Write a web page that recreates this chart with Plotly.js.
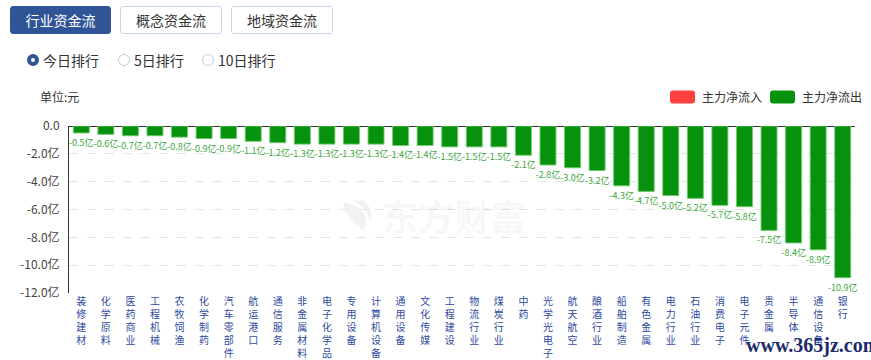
<!DOCTYPE html>
<html>
<head>
<meta charset="utf-8">
<script src="https://cdn.plot.ly/plotly-3.0.1.min.js"></script>
<style>
  html, body { margin: 0; padding: 0; background: #fff; }
  #wrap { position: relative; width: 871px; height: 360px; overflow: hidden; font-family: "Noto Sans CJK SC", "Noto Sans", sans-serif; }
  #chart { position: absolute; left: 0; top: 0; width: 871px; height: 360px; }
  .btn { position: absolute; top: 6px; height: 28px; box-sizing: border-box; border-radius: 3px; font-size: 14px; line-height: 26px; text-align: center; }
  .btn.on { background: #2f5597; color: #fff; border: 1px solid #2f5597; }
  .btn.off { background: #fff; color: #333; border: 1px solid #c9d7ec; }
  .radio { position: absolute; top: 51px; font-size: 14px; color: #333; line-height: 18px; }
  .dot { position: absolute; top: 3px; width: 12px; height: 12px; box-sizing: border-box; border-radius: 50%; }
  .dot.on { border: 4px solid #2f5597; background: #fff; }
  .dot.off { border: 1px solid #b9cde6; background: #fff; }
  #wm { position: absolute; left: 746px; top: 334px; font-family: "Liberation Serif", serif; font-weight: bold; font-size: 20px; color: #1c2b6e; }
</style>
</head>
<body>
<div id="wrap">
  <div id="chart"></div>
  <div class="btn on" style="left:10px;width:101px;">行业资金流</div>
  <div class="btn off" style="left:120px;width:102px;">概念资金流</div>
  <div class="btn off" style="left:231px;width:102px;">地域资金流</div>
  <div class="dot on" style="left:27px;top:54px;"></div><div class="radio" style="left:43px;">今日排行</div>
  <div class="dot off" style="left:118px;top:54px;"></div><div class="radio" style="left:134px;">5日排行</div>
  <div class="dot off" style="left:202px;top:54px;"></div><div class="radio" style="left:218px;">10日排行</div>
  <div id="wm">www.365jz.com</div>
</div>
<script>
const categories = ["装修建材","化学原料","医药商业","工程机械","农牧饲渔","化学制药","汽车零部件","航运港口","通信服务","非金属材料","电子化学品","专用设备","计算机设备","通用设备","文化传媒","工程建设","物流行业","煤炭行业","中药","光学光电子","航天航空","酿酒行业","船舶制造","有色金属","电力行业","石油行业","消费电子","电子元件","贵金属","半导体","通信设备","银行"];
const outflow = [-0.5,-0.6,-0.7,-0.7,-0.8,-0.9,-0.9,-1.1,-1.2,-1.3,-1.3,-1.3,-1.3,-1.4,-1.4,-1.5,-1.5,-1.5,-2.1,-2.8,-3.0,-3.2,-4.3,-4.7,-5.0,-5.2,-5.7,-5.8,-7.5,-8.4,-8.9,-10.9];
const inflow = [];
const yTickVals = [0,-2,-4,-6,-8,-10,-12];
const yTickText = ["0.0","-2.0亿","-4.0亿","-6.0亿","-8.0亿","-10.0亿","-12.0亿"];
const seriesNames = ["主力净流入","主力净流出"];
const seriesColors = ["#ff4040","#06920c"];

const xTickText = categories.map(c => c.split('').join('<br>'));
const barText = outflow.map(v => v.toFixed(1) + '亿');
const FONT = '"Noto Sans CJK SC", "Noto Sans", sans-serif';

const traces = [
  { type: 'bar', name: seriesNames[0], x: inflow.map((v,i)=>categories[i]), y: inflow,
    marker: { color: seriesColors[0] }, showlegend: false },
  { type: 'bar', name: seriesNames[1], x: categories, y: outflow,
    marker: { color: seriesColors[1], line: { color: 'rgba(110,200,110,0.9)', width: 1 } },
    text: barText, textposition: 'outside', constraintext: 'none', cliponaxis: false,
    textfont: { size: 9, color: '#3aa63a', family: FONT }, hoverinfo: 'x+y', showlegend: false }
];

// legend (drawn as rounded swatches + labels above the plot, right side)
const legendY = 1.1737;
const swatchX = [0.7805, 0.9078];
const labelX = [0.8028, 0.9300];
const rr = 'M-9.5,-6.5 H9.5 Q12.5,-6.5 12.5,-3.5 V3.5 Q12.5,6.5 9.5,6.5 H-9.5 Q-12.5,6.5 -12.5,3.5 V-3.5 Q-12.5,-6.5 -9.5,-6.5 Z';
const legendShapes = seriesNames.map((n, i) => ({
  type: 'path', xref: 'paper', yref: 'paper', xsizemode: 'pixel', ysizemode: 'pixel',
  xanchor: swatchX[i], yanchor: legendY, path: rr,
  fillcolor: seriesColors[i], line: { width: 0 }
}));
const legendLabels = seriesNames.map((n, i) => ({
  text: n, xref: 'paper', yref: 'paper', x: labelX[i], y: legendY, xanchor: 'left', yanchor: 'middle',
  showarrow: false, font: { size: 12, color: '#333' }
}));

// faint watermark logo (leaf swoosh) next to the 东方财富 watermark text
const logoShape = {
  type: 'path', xref: 'paper', yref: 'paper', xsizemode: 'pixel', ysizemode: 'pixel',
  xanchor: 0.3664, yanchor: 0.47, layer: 'below',
  path: 'M-14,12 Q-12,-4 6,-16 Q14,-4 2,6 Q-6,12 -14,12 Z M-4,14 Q8,8 14,-6 Q16,8 6,14 Z',
  fillcolor: 'rgba(0,0,0,0.05)', line: { width: 0 }
};

const layout = {
  width: 871, height: 360,
  margin: { l: 69, r: 16, t: 126, b: 67, pad: 0 },
  paper_bgcolor: 'rgba(0,0,0,0)', plot_bgcolor: 'rgba(0,0,0,0)',
  font: { family: FONT, color: '#333' },
  bargap: 0.35, barmode: 'overlay',
  showlegend: false,
  xaxis: { type: 'category', categoryorder: 'array', categoryarray: categories,
           tickmode: 'array', tickvals: categories, ticktext: xTickText, tickangle: 0,
           tickfont: { size: 10, color: '#2d4aa0', family: FONT }, ticklabelstandoff: 1,
           showgrid: false, showline: false, zeroline: false, ticks: '', fixedrange: true },
  yaxis: { range: [-12, 0], tickmode: 'array', tickvals: yTickVals, ticktext: yTickText,
           tickfont: { size: 12, color: '#444', family: FONT },
           showgrid: true, gridcolor: '#e3e3e3', griddash: 'dash', gridwidth: 1,
           zeroline: true, zerolinecolor: '#333', zerolinewidth: 1,
           showline: true, linecolor: '#333', linewidth: 1, ticks: '', ticklabelstandoff: 6, fixedrange: true },
  shapes: legendShapes.concat([logoShape]),
  annotations: [
    { text: '单位:元', xref: 'paper', yref: 'paper', x: -0.04, y: legendY, xanchor: 'left', yanchor: 'middle',
      showarrow: false, font: { size: 12, color: '#333' } },
    { text: '<b>东方财富</b>', xref: 'paper', yref: 'paper', x: 0.49, y: 0.47, xanchor: 'center', yanchor: 'middle',
      showarrow: false, font: { size: 36, color: 'rgba(0,0,0,0.055)' } }
  ].concat(legendLabels)
};

Plotly.newPlot('chart', traces, layout, { displayModeBar: false, staticPlot: true });
</script>
</body>
</html>
